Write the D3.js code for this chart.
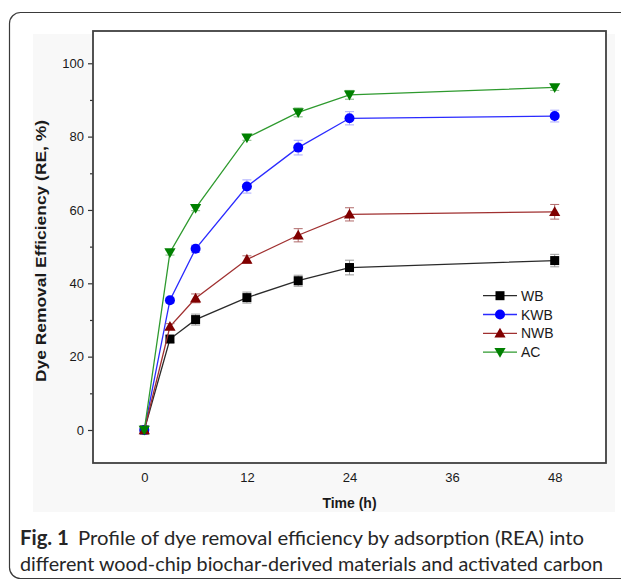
<!DOCTYPE html>
<html>
<head>
<meta charset="utf-8">
<script src="https://cdn.jsdelivr.net/npm/d3@7"></script>
<style>
  html, body { margin: 0; padding: 0; background: #ffffff; }
  svg { display: block; }
</style>
</head>
<body>
<script>
// ---------------- DATA ----------------
const times = [0, 3, 6, 12, 18, 24, 48];
const seriesNames = ["WB", "KWB", "NWB", "AC"];
const wbValues  = [0, 24.8, 30.1, 36.1, 40.7, 44.3, 46.2];
const wbErrors  = [0, 0.9, 1.5, 1.5, 1.5, 2.0, 1.7];
const kwbValues = [0, 35.4, 49.4, 66.4, 77.0, 85.0, 85.6];
const kwbErrors = [0, 0.8, 1.0, 1.8, 2.0, 1.8, 1.6];
const nwbValues = [0, 28.2, 35.9, 46.5, 53.1, 58.8, 59.5];
const nwbErrors = [0, 0.8, 1.2, 1.0, 1.8, 1.8, 2.0];
const acValues  = [0, 48.4, 60.5, 79.7, 86.6, 91.4, 93.4];
const acErrors  = [0, 0.7, 0.7, 0.7, 1.2, 1.2, 0.8];
const xTicks = [0, 12, 24, 36, 48];
const yTicks = [0, 20, 40, 60, 80, 100];
const yMinorTicks = [10, 30, 50, 70, 90];
const xTitle = "Time (h)";
const yTitle = "Dye Removal Efficiency (RE, %)";
const captionBold = "Fig. 1";
const captionLine1 = "Profile of dye removal efficiency by adsorption (REA) into";
const captionLine2 = "different wood-chip biochar-derived materials and activated carbon";

// ---------------- STYLES ----------------
const styles = {
  WB:  { marker: "square",   fill: "#000000", line: "#2a2a2a", err: "#9a9a9a" },
  KWB: { marker: "circle",   fill: "#0000ff", line: "#2b2bff", err: "#a8a8ff" },
  NWB: { marker: "triangle", fill: "#800000", line: "#a03030", err: "#b06a6a" },
  AC:  { marker: "triangleDown", fill: "#008000", line: "#2e9a2e", err: "#7fb87f" }
};
const seriesValues = [wbValues, kwbValues, nwbValues, acValues];
const seriesErrors = [wbErrors, kwbErrors, nwbErrors, acErrors];

const W = 621, H = 580;
const plot = { left: 93, right: 606, top: 31, bottom: 463 };

const svg = d3.select("body").append("svg").attr("width", W).attr("height", H);

// outer rounded border
svg.append("rect")
  .attr("x", 9.5).attr("y", 12.5).attr("width", 700).attr("height", 566)
  .attr("rx", 11).attr("ry", 11)
  .attr("fill", "#ffffff").attr("stroke", "#3a3a3a").attr("stroke-width", 1.2);

// light figure background
svg.append("rect")
  .attr("x", 33).attr("y", 34).attr("width", 582).attr("height", 478)
  .attr("fill", "#f8f8f8");

// plot area
svg.append("rect")
  .attr("x", plot.left).attr("y", plot.top)
  .attr("width", plot.right - plot.left).attr("height", plot.bottom - plot.top)
  .attr("fill", "#ffffff");

const x = d3.scaleLinear().domain([-6, 54]).range([plot.left, plot.right]);
const y = d3.scaleLinear().domain([-9.0, 108.8]).range([plot.bottom, plot.top]);

const FONT = "'Liberation Sans', Arial, sans-serif";

// y axis major
const yAxis = svg.append("g").attr("transform", `translate(${plot.left},0)`)
  .call(d3.axisLeft(y).tickValues(yTicks).tickSize(5).tickPadding(4).tickFormat(d3.format("d")));
yAxis.select(".domain").remove();
yAxis.selectAll("line").attr("stroke", "#333").attr("stroke-width", 1.2);
yAxis.selectAll("text").attr("font-family", FONT).attr("font-size", 13).attr("fill", "#1a1a1a");

// y axis minor
const yMinor = svg.append("g").attr("transform", `translate(${plot.left},0)`)
  .call(d3.axisLeft(y).tickValues(yMinorTicks).tickSize(3).tickFormat(""));
yMinor.select(".domain").remove();
yMinor.selectAll("line").attr("stroke", "#333").attr("stroke-width", 1.2);

// x axis (labels only)
const xAxis = svg.append("g").attr("transform", `translate(0,${plot.bottom})`)
  .call(d3.axisBottom(x).tickValues(xTicks).tickSize(0).tickPadding(10).tickFormat(d3.format("d")));
xAxis.select(".domain").remove();
xAxis.selectAll("text").attr("font-family", FONT).attr("font-size", 13).attr("fill", "#1a1a1a");

// frame
svg.append("rect")
  .attr("x", plot.left).attr("y", plot.top)
  .attr("width", plot.right - plot.left).attr("height", plot.bottom - plot.top)
  .attr("fill", "none").attr("stroke", "#404040").attr("stroke-width", 1.8);

// axis titles
svg.append("text")
  .attr("x", (plot.left + plot.right) / 2).attr("y", 508)
  .attr("text-anchor", "middle").attr("font-family", FONT)
  .attr("font-weight", "bold").attr("font-size", 14).attr("fill", "#1a1a1a")
  .text(xTitle);
svg.append("text")
  .attr("transform", `translate(${46 - 131},${251}) rotate(-90, 131, 0)`)
  .attr("x", 0).attr("y", 0)
  .attr("font-family", FONT)
  .attr("font-weight", "bold").attr("font-size", 14).attr("fill", "#1a1a1a")
  .attr("textLength", 262).attr("lengthAdjust", "spacingAndGlyphs")
  .text(yTitle);

// marker drawing
function drawMarker(g, type, cx, cy, color) {
  if (type === "square") {
    g.append("rect").attr("x", cx - 4.5).attr("y", cy - 4.5).attr("width", 9).attr("height", 9).attr("fill", color);
  } else if (type === "circle") {
    g.append("circle").attr("cx", cx).attr("cy", cy).attr("r", 5).attr("fill", color);
  } else if (type === "triangle") {
    const s = 5.6;
    g.append("path").attr("d", `M${cx},${cy - s} L${cx + s},${cy + s * 0.75} L${cx - s},${cy + s * 0.75} Z`).attr("fill", color);
  } else if (type === "triangleDown") {
    const s = 5.6;
    g.append("path").attr("d", `M${cx},${cy + s} L${cx + s},${cy - s * 0.75} L${cx - s},${cy - s * 0.75} Z`).attr("fill", color);
  }
}

const line = d3.line().x(d => x(d[0])).y(d => y(d[1]));

seriesNames.forEach((name, i) => {
  const st = styles[name];
  const vals = seriesValues[i];
  const errs = seriesErrors[i];
  const pts = times.map((t, j) => [t, vals[j], errs[j]]);
  const g = svg.append("g");
  g.append("path").datum(pts).attr("d", line)
    .attr("fill", "none").attr("stroke", st.line).attr("stroke-width", 1.3);
  // error bars
  pts.forEach(p => {
    if (p[2] <= 0) return;
    const cx = x(p[0]), y1 = y(p[1] + p[2]), y2 = y(p[1] - p[2]);
    g.append("line").attr("x1", cx).attr("x2", cx).attr("y1", y1).attr("y2", y2)
      .attr("stroke", st.err).attr("stroke-width", 1);
    [y1, y2].forEach(yy => {
      g.append("line").attr("x1", cx - 4.5).attr("x2", cx + 4.5).attr("y1", yy).attr("y2", yy)
        .attr("stroke", st.err).attr("stroke-width", 1);
    });
  });
  pts.forEach(p => drawMarker(g, st.marker, x(p[0]), y(p[1]), st.fill));
});

// legend
const legend = svg.append("g");
seriesNames.forEach((name, i) => {
  const st = styles[name];
  const cy = 295.7 + i * 18.8;
  legend.append("line").attr("x1", 483).attr("x2", 517).attr("y1", cy).attr("y2", cy)
    .attr("stroke", st.line).attr("stroke-width", 1.3);
  drawMarker(legend, st.marker, 500, cy, st.fill);
  legend.append("text").attr("x", 521).attr("y", cy + 5)
    .attr("font-family", FONT).attr("font-size", 14).attr("fill", "#1a1a1a").text(name);
});

// caption
const CAPFONT = "Lato, 'Noto Sans', sans-serif";
const cap1 = svg.append("text").attr("x", 20).attr("y", 545)
  .attr("font-family", CAPFONT).attr("font-size", 20).attr("fill", "#262626");
cap1.append("tspan").attr("font-weight", "bold").text(captionBold);
cap1.append("tspan").attr("dx", 9).text(captionLine1);
svg.append("text").attr("x", 20).attr("y", 571)
  .attr("font-family", CAPFONT).attr("font-size", 20).attr("fill", "#262626")
  .attr("textLength", 583).attr("lengthAdjust", "spacingAndGlyphs")
  .text(captionLine2);
// fit line 1 to width
const l1 = cap1.node().getComputedTextLength();
const target1 = 555;
if (l1 > 0) {
  cap1.attr("transform", `translate(20,0) scale(${target1 / l1},1) translate(-20,0)`);
}
</script>
</body>
</html>
